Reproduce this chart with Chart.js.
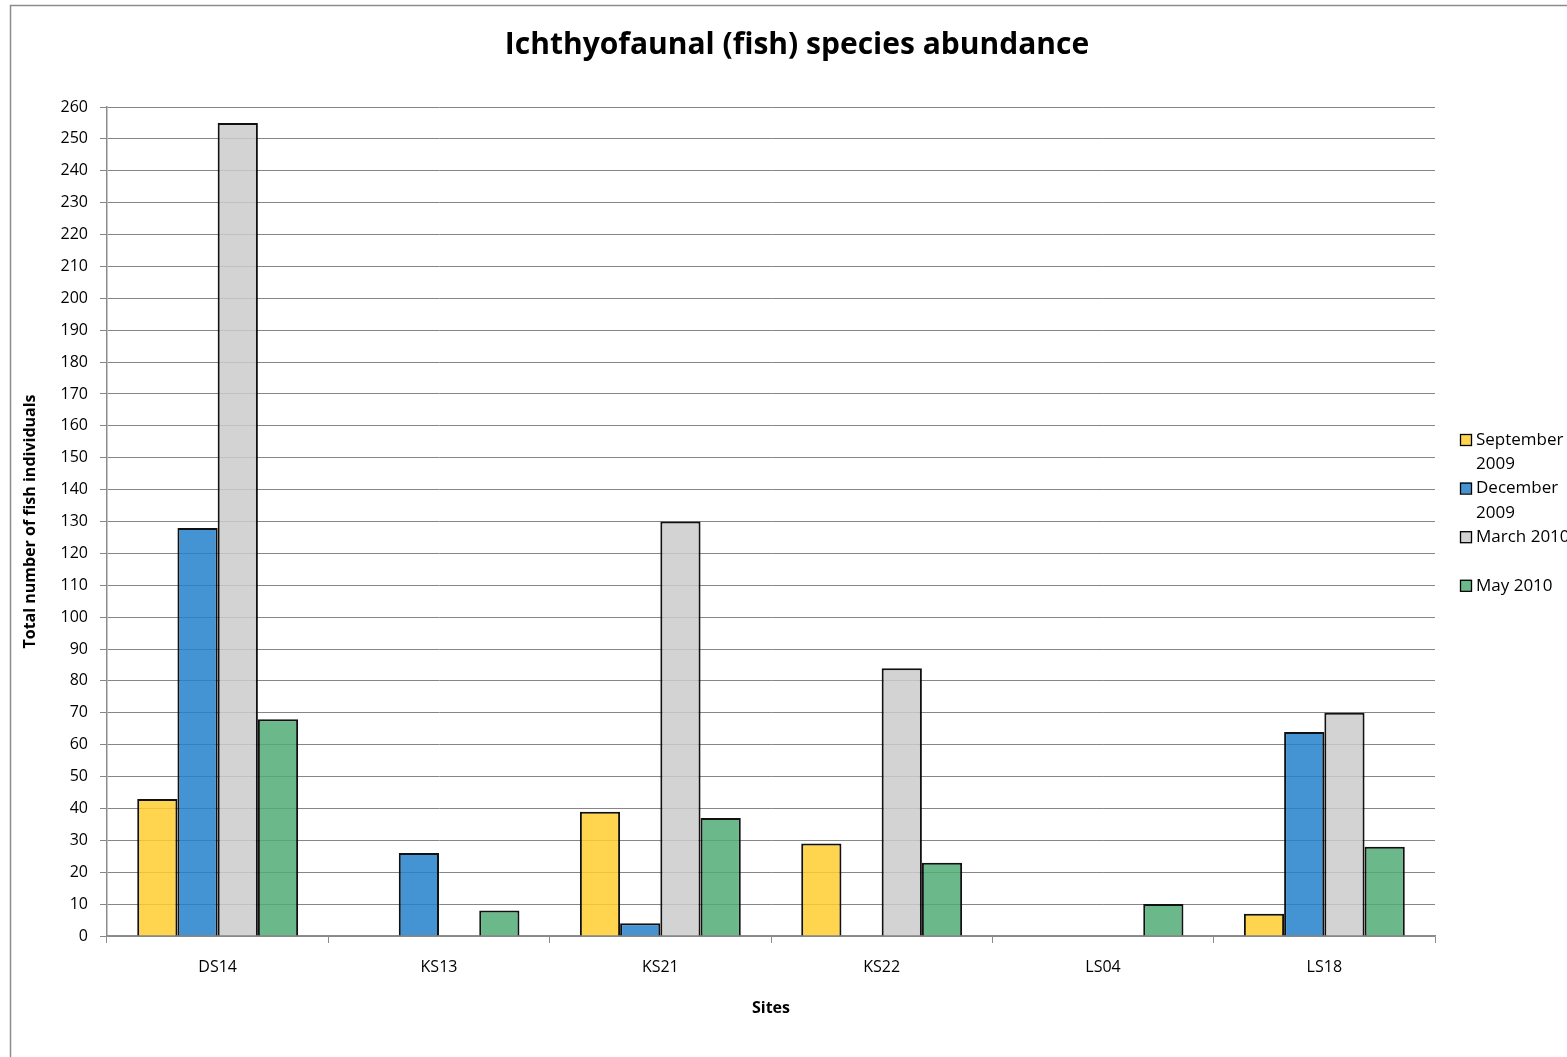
<!DOCTYPE html>
<html>
<head>
<meta charset="utf-8">
<title>Ichthyofaunal (fish) species abundance</title>
<script src="https://cdn.jsdelivr.net/npm/chart.js@4/dist/chart.umd.min.js"></script>
<style>
  html, body { margin: 0; padding: 0; background: #fff; overflow: hidden; }
  #wrap { width: 1567px; height: 1057px; }
</style>
</head>
<body>
<div id="wrap"><canvas id="chart" width="1567" height="1057"></canvas></div>
<script>
// Sampling sites and total fish counts per survey
const categories = ['DS14', 'KS13', 'KS21', 'KS22', 'LS04', 'LS18'];
const sep2009 = [43, 0, 39, 29, 0, 7];
const dec2009 = [128, 26, 4, 0, 0, 64];
const mar2010 = [255, 0, 130, 84, 0, 70];
const may2010 = [68, 8, 37, 23, 10, 28];
const seriesNames = ['September 2009', 'December 2009', 'March 2010', 'May 2010'];
// Legend text as it wraps in the side panel
const legendLines = [['September', '2009'], ['December', '2009'], ['March 2010', ''], ['May 2010']];
const chartTitle = 'Ichthyofaunal (fish) species abundance';
const yMin = 0, yMax = 260, yStep = 10;

const FONT = "'Open Sans', 'DejaVu Sans', sans-serif";
Chart.defaults.font.family = FONT;
Chart.defaults.color = '#000';

const fills = ['rgba(255,204,47,0.85)', 'rgba(35,129,204,0.85)', 'rgba(203,203,203,0.85)', 'rgba(81,171,119,0.85)'];
const seriesData = [sep2009, dec2009, mar2010, may2010];

const datasets = seriesData.map((d, i) => ({
  label: seriesNames[i],
  data: d,
  backgroundColor: fills[i],
  borderColor: '#111',
  borderWidth: ctx => (ctx.raw === 0 ? 0 : 2),
  categoryPercentage: 0.727,
  barPercentage: 1.0
}));

// White page, thin grey frame and the centred heading
const framePlugin = {
  id: 'frame',
  beforeDraw(chart) {
    const c = chart.ctx;
    c.save();
    c.fillStyle = '#fff';
    c.fillRect(0, 0, chart.width, chart.height);
    c.strokeStyle = '#8c8c8c';
    c.lineWidth = 1.5;
    c.strokeRect(10.5, 5.5, chart.width + 20, chart.height + 20);
    c.fillStyle = '#000';
    c.font = 'bold 30px ' + FONT;
    c.textAlign = 'center';
    c.textBaseline = 'middle';
    c.fillText(chartTitle, 797, 45);
    c.restore();
  }
};

// Side legend with wrapped labels
const sideLegend = {
  id: 'sideLegend',
  afterDraw(chart) {
    const c = chart.ctx;
    const x0 = 1460, lineH = 24.3;
    let y = 440;
    c.save();
    c.font = '17px ' + FONT;
    c.textBaseline = 'middle';
    c.textAlign = 'left';
    chart.data.datasets.forEach((ds, i) => {
      const lines = legendLines[i];
      c.fillStyle = '#fff';
      c.fillRect(x0, y - 6, 11, 11);
      c.fillStyle = ds.backgroundColor;
      c.fillRect(x0, y - 6, 11, 11);
      c.strokeStyle = '#000';
      c.lineWidth = 1.3;
      c.strokeRect(x0 + 0.5, y - 5.5, 11, 11);
      c.fillStyle = '#000';
      lines.forEach((t, k) => c.fillText(t, x0 + 16, y + k * lineH));
      y += Math.max(lines.length, 1) * lineH;
    });
    c.restore();
  }
};

new Chart(document.getElementById('chart'), {
  type: 'bar',
  data: { labels: categories, datasets },
  plugins: [framePlugin, sideLegend],
  options: {
    responsive: false,
    animation: false,
    layout: { padding: { left: 10, right: 132, top: 107, bottom: 20 } },
    plugins: {
      legend: { display: false },
      tooltip: { enabled: false },
      title: { display: false }
    },
    scales: {
      x: {
        afterFit(scale) { scale.height = 101; },
        grid: { display: true, drawOnChartArea: false, drawTicks: true, tickLength: 7, color: '#8c8c8c', offset: true },
        border: { display: true, color: '#8c8c8c', width: 1.5 },
        ticks: { font: { size: 16 }, padding: 15, color: '#000' },
        title: { display: true, text: 'Sites', font: { size: 16, weight: 'bold' }, color: '#000', padding: { top: 0, bottom: 19 } }
      },
      y: {
        min: yMin,
        max: yMax,
        afterFit(scale) { scale.width = 97; },
        grid: { color: '#868686', lineWidth: 1, tickLength: 7, drawTicks: true },
        border: { display: true, color: '#8c8c8c', width: 1.5 },
        ticks: { stepSize: yStep, font: { size: 16 }, padding: 12, color: '#000' },
        title: { display: true, text: 'Total number of fish individuals', font: { size: 16, weight: 'bold' }, color: '#000', padding: { top: 11, bottom: 0 } }
      }
    }
  }
});
</script>
</body>
</html>
